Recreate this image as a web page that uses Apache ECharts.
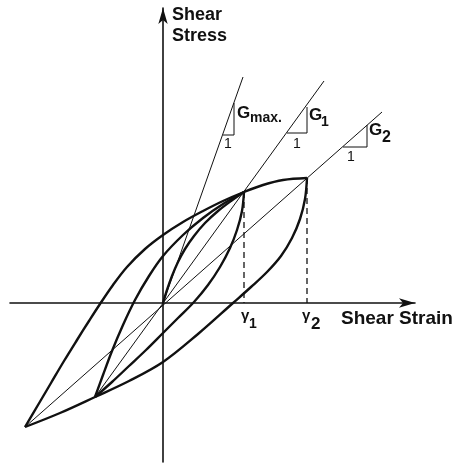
<!DOCTYPE html>
<html>
<head>
<meta charset="utf-8">
<style>
  html, body { margin: 0; padding: 0; background: #fff; }
  #container { width: 458px; height: 466px; }
</style>
</head>
<body>
<div id="container"></div>
<script src="https://cdn.jsdelivr.net/npm/echarts@6/dist/echarts.min.js"></script>
<script>
// drawing units: shear strain (x) / shear stress (y), origin where the axes cross
var bigUpper = [[-138, -124], [-125, -102], [-112, -80], [-99, -58], [-86, -37], [-74, -18], [-63, -1], [-50, 18], [-36, 36], [-18, 54], [0, 68], [20, 81], [40, 92], [60, 102], [81, 111], [100, 118], [120, 123], [144, 125]];
var bigLower = [[144, 125], [142, 104], [137, 84], [129, 65], [118, 47], [104, 31], [88, 16], [70, 0], [35, -31], [0, -59], [-34, -78], [-68, -94], [-103, -110], [-138, -124]];
var smallUpper = [[-68, -94], [-60, -72], [-51, -48], [-40, -22], [-28, 3], [-14, 27], [0, 47], [20, 68], [40, 85], [60, 99], [81, 111]];
var smallLower = [[81, 111], [79, 92], [74, 73], [67, 55], [57, 36], [45, 18], [31, 1], [15, -15], [0, -30], [-17, -47], [-34, -63], [-51, -79], [-68, -94]];
var backbone = [[0, 0], [4, 13], [9, 27], [15, 41], [22, 54], [31, 67], [42, 80], [55, 92], [68, 102], [81, 111]];

// tangent / secant modulus lines
var gMaxLine = [[0, 0], [80, 226]];
var g1Line = [[-68, -94], [161, 222]];
var g2Line = [[-138, -124], [219, 191]];

// slope triangles
var gMaxTri = [[71, 200], [71, 168], [60, 168]];
var g1Tri = [[144, 196], [144, 170], [124, 170]];
var g2Tri = [[204, 178], [204, 156], [180, 156]];

// strain amplitudes gamma1, gamma2
var gamma1Drop = [[81, 111], [81, 0]];
var gamma2Drop = [[144, 125], [144, 0]];

var dom = document.getElementById('container');
var myChart = echarts.init(dom, null, { renderer: 'canvas' });

var ink = '#111';
var font = 'Liberation Sans';

function curve(data, width) {
  return {
    type: 'line', data: data, smooth: 0.35, showSymbol: false, silent: true,
    lineStyle: { color: ink, width: width }
  };
}
function straight(data, width, dashed) {
  return {
    type: 'line', data: data, showSymbol: false, silent: true,
    lineStyle: { color: ink, width: width, type: dashed ? [6, 4] : 'solid' }
  };
}
function txt(str, left, top, size, weight) {
  return {
    type: 'text', left: left, top: top, silent: true,
    style: { text: str, fill: ink, font: (weight || 'bold') + ' ' + size + 'px "' + font + '"' }
  };
}

var option = {
  animation: false,
  backgroundColor: '#fff',
  grid: { left: 10, right: 43, top: 8, bottom: 4 },
  xAxis: {
    type: 'value', min: -153, max: 252,
    axisLine: { onZero: true, symbol: ['none', 'arrow'], symbolSize: [7, 16], lineStyle: { color: ink, width: 1.6 } },
    axisTick: { show: false }, axisLabel: { show: false }, splitLine: { show: false }
  },
  yAxis: {
    type: 'value', min: -159, max: 295,
    axisLine: { onZero: true, symbol: ['none', 'arrow'], symbolSize: [7, 16], lineStyle: { color: ink, width: 1.6 } },
    axisTick: { show: false }, axisLabel: { show: false }, splitLine: { show: false }
  },
  series: [
    straight(gMaxLine, 1),
    straight(g1Line, 1),
    straight(g2Line, 1),
    straight(gMaxTri, 1),
    straight(g1Tri, 1),
    straight(g2Tri, 1),
    straight(gamma1Drop, 1.3, true),
    straight(gamma2Drop, 1.3, true),
    curve(bigUpper, 2.4),
    curve(bigLower, 2.4),
    curve(smallUpper, 2.4),
    curve(smallLower, 2.4),
    curve(backbone, 2.4)
  ],
  graphic: [
    txt('Shear', 172, 6, 18),
    txt('Stress', 172, 27, 18),
    txt('Shear Strain', 341, 309, 19),
    txt('G', 237, 105, 17), txt('max.', 250, 111, 14),
    txt('G', 309, 107, 17), txt('1', 321, 115, 14),
    txt('G', 369, 122, 17), txt('2', 382, 130, 16),
    txt('1', 224, 137, 14, 'normal'),
    txt('1', 293, 137, 14, 'normal'),
    txt('1', 347, 150, 14, 'normal'),
    txt('\u03b3', 241, 308, 15, 'bold'), txt('1', 249, 317, 14, 'bold'),
    txt('\u03b3', 302, 308, 15, 'bold'), txt('2', 311, 316, 17, 'bold')
  ]
};

if (option && typeof option === 'object') {
  myChart.setOption(option);
}

window.addEventListener('resize', myChart.resize);
</script>
</body>
</html>
